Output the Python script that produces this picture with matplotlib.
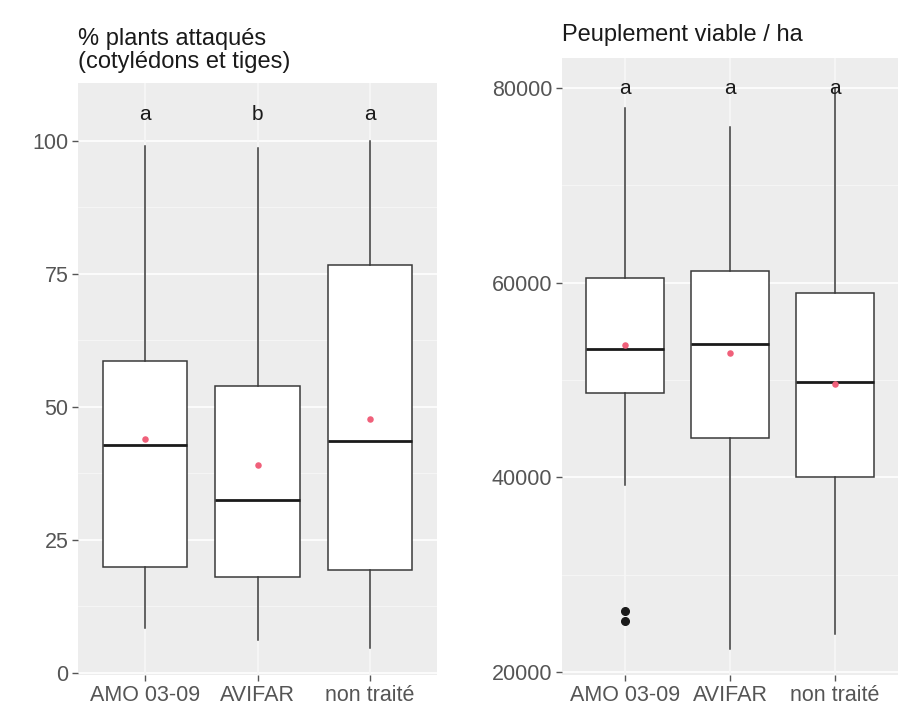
import numpy as np
import matplotlib
matplotlib.use("Agg")
import matplotlib.pyplot as plt

plt.rcParams["font.family"] = ["Liberation Sans", "DejaVu Sans"]

groups = ["AMO 03-09", "AVIFAR", "non traité"]

# % plants attaqués
att_whislo = [8.5, 6.2, 4.7]
att_q1 = [19.9, 18.0, 19.4]
att_med = [42.9, 32.5, 43.6]
att_q3 = [58.6, 54.0, 76.6]
att_whishi = [99.0, 98.7, 100.0]
att_mean = [44.0, 39.1, 47.7]
att_letters = ["a", "b", "a"]
att_letter_y = 105

# Peuplement viable / ha
peu_whislo = [39200, 22400, 23900]
peu_q1 = [48700, 44100, 40000]
peu_med = [53200, 53700, 49800]
peu_q3 = [60500, 61200, 58900]
peu_whishi = [78000, 76000, 80000]
peu_mean = [53600, 52800, 49600]
peu_fliers = [[26300, 25200], [], []]
peu_letters = ["a", "a", "a"]
peu_letter_y = 80000

BG = "#EDEDED"
TXT = "#555555"


def make_stats(lo, q1, med, q3, hi, fliers=None):
    stats = []
    for i in range(len(lo)):
        stats.append(dict(whislo=lo[i], q1=q1[i], med=med[i], q3=q3[i],
                          whishi=hi[i],
                          fliers=fliers[i] if fliers else []))
    return stats


def draw(ax, stats, means, letters, letter_y, ylim, major, minor, title,
         title_pad):
    ax.set_facecolor(BG)
    for v in minor:
        ax.axhline(v, color="#F7F7F7", lw=0.6, zorder=0)
    for v in major:
        ax.axhline(v, color="white", lw=1.2, zorder=0)
    pos = np.arange(1, len(groups) + 1)
    for p in pos:
        ax.axvline(p, color="#F7F7F7", lw=1.2, zorder=0)
    ax.bxp(stats, positions=pos, widths=0.75, showcaps=False,
           patch_artist=True,
           boxprops=dict(facecolor="white", edgecolor="#3a3a3a", lw=1.1),
           whiskerprops=dict(color="#3a3a3a", lw=1.1),
           medianprops=dict(color="#1a1a1a", lw=2.0),
           flierprops=dict(marker="o", markerfacecolor="#1a1a1a",
                           markeredgecolor="#1a1a1a", markersize=5.5),
           zorder=2)
    ax.scatter(pos, means, s=22, color="#F0607A", zorder=4, linewidths=0)
    for p, l in zip(pos, letters):
        ax.text(p, letter_y, l, ha="center", va="center", fontsize=15,
                color="#1a1a1a", zorder=5)
    ax.set_xlim(0.4, 3.6)
    ax.set_ylim(*ylim)
    ax.set_yticks(major)
    ax.set_xticks(pos)
    ax.set_xticklabels(groups)
    for s in ax.spines.values():
        s.set_visible(False)
    ax.tick_params(colors=TXT, labelcolor=TXT, labelsize=15.5, length=4,
                   width=1)
    ax.tick_params(axis="x", pad=3)
    ax.tick_params(axis="y", pad=3)
    ax.set_title(title, loc="left", fontsize=17, color="#1a1a1a",
                 pad=title_pad, linespacing=1.05)


fig = plt.figure(figsize=(8.99, 7.13), dpi=100)
ax1 = fig.add_axes([0.0868, 0.0533, 0.3993, 0.8303])
ax2 = fig.add_axes([0.6251, 0.0533, 0.3738, 0.8654])

draw(ax1, make_stats(att_whislo, att_q1, att_med, att_q3, att_whishi),
     att_mean, att_letters, att_letter_y, (-0.4, 110.9),
     [0, 25, 50, 75, 100], [12.5, 37.5, 62.5, 87.5],
     "% plants attaqués\n(cotylédons et tiges)", 11)
draw(ax2, make_stats(peu_whislo, peu_q1, peu_med, peu_q3, peu_whishi,
                     peu_fliers),
     peu_mean, peu_letters, peu_letter_y, (19700, 83100),
     [20000, 40000, 60000, 80000], [30000, 50000, 70000],
     "Peuplement viable / ha", 12)

fig.savefig("out.png", dpi=100, facecolor="white")
